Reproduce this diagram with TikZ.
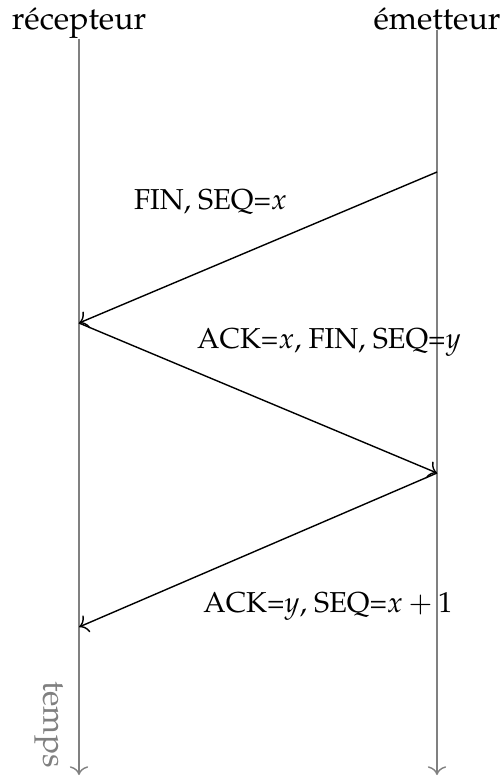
\documentclass[tikz,border=0pt]{standalone}
\usepackage[T1]{fontenc}
\usepackage{mathpazo}
\usetikzlibrary{positioning,arrows.meta,calc}

\begin{document}
\begin{tikzpicture}[
  party/.style={inner sep=0pt, anchor=base, font=\fontsize{9.1}{11}\selectfont},
  timeline/.style={draw=gray, ->},
  msg/.style={draw=black, ->},
  msglabel/.style={inner sep=0pt, anchor=base, font=\fontsize{8.2}{10}\selectfont}
]
  \useasboundingbox (0,0) rectangle (5.01,-7.78);
  % Parties
  \node[party] (recv) at (0.79,-0.29) {r\'ecepteur};
  \node[party] (send) at (4.37,-0.29) {\'emetteur};
  \coordinate (recvend) at (0.79,-7.75);
  \coordinate (sendend) at (4.37,-7.75);
  \draw[timeline] (recv) -- (recvend);
  \draw[timeline] (send) -- (sendend);
  \node[gray, rotate=-90, font=\fontsize{9.1}{11}\selectfont] (time) at (0.485,-7.245) {temps};

  % Events
  \coordinate (s1) at (4.37,-1.72);
  \coordinate (r1) at (0.79,-3.23);
  \coordinate (s2) at (4.37,-4.73);
  \coordinate (r2) at (0.79,-6.27);

  % Messages
  \draw[msg] (s1) -- (r1);
  \draw[msg] (r1) -- (s2);
  \draw[msg] (s2) -- (r2);

  % Labels
  \node[msglabel] (l1) at (2.105,-2.09) {FIN, SEQ=$x$};
  \node[msglabel] (l2) at (3.29,-3.48) {ACK=$x$, FIN, SEQ=$y$};
  \node[msglabel] (l3) at (3.28,-6.12) {ACK=$y$, SEQ=$x+1$};
\end{tikzpicture}
\end{document}
